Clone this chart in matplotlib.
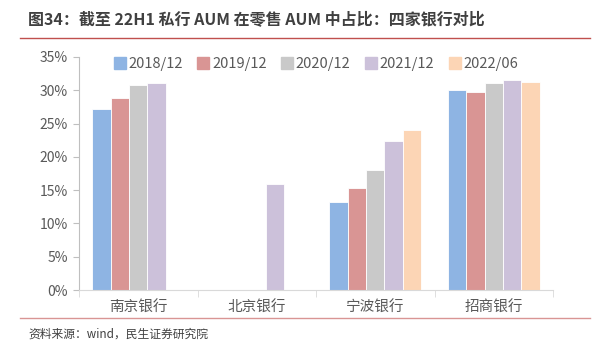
import numpy as np
import matplotlib.pyplot as plt
from matplotlib.lines import Line2D

plt.rcParams['font.family'] = ['Noto Sans CJK SC', 'DejaVu Sans']

banks = ['南京银行', '北京银行', '宁波银行', '招商银行']
periods = ['2018/12', '2019/12', '2020/12', '2021/12', '2022/06']
colors = ['#8EB4E3', '#D99594', '#C9C9C9', '#CCC1DA', '#FCD5B5']

# share of private banking AUM in retail AUM (%), nan = not disclosed
v2018 = [27.2, np.nan, 13.2, 30.0]
v2019 = [28.8, np.nan, 15.3, 29.8]
v2020 = [30.8, np.nan, 18.0, 31.1]
v2021 = [31.1, 15.9, 22.4, 31.5]
v2022 = [np.nan, np.nan, 24.0, 31.2]
series = [v2018, v2019, v2020, v2021, v2022]

fig = plt.figure(figsize=(6.03, 3.51), dpi=100)
ax = fig.add_axes([79 / 603, 1 - 290 / 351, (553 - 79) / 603, (290 - 57) / 351])

x = np.arange(len(banks))
w = 0.155
for i, (vals, c) in enumerate(zip(series, colors)):
    ax.bar(x + (i - 2) * w, vals, w, color=c, edgecolor='white', linewidth=0.6,
           label=periods[i])

ax.set_xlim(-0.5, len(banks) - 0.5)
ax.set_ylim(0, 35)
ax.set_yticks(np.arange(0, 36, 5))
ax.set_yticklabels([f'{t}%' for t in range(0, 36, 5)])
ax.set_xticks(x)
ax.set_xticklabels(banks)
ax.set_xticks(np.arange(-0.5, len(banks)), minor=True)
ax.tick_params(axis='x', which='major', length=0, pad=8, labelsize=10.5, labelcolor='#595959')
ax.tick_params(axis='x', which='minor', length=5, color='#D9D9D9', direction='out')
ax.tick_params(axis='y', length=4, color='#BFBFBF', labelsize=10, labelcolor='#595959', pad=4)
for s in ['top', 'right']:
    ax.spines[s].set_visible(False)
ax.spines['left'].set_color('#BFBFBF')
ax.spines['bottom'].set_color('#D9D9D9')

handles = [Line2D([], [], marker='s', linestyle='', markersize=8, markerfacecolor=c,
                  markeredgecolor=c) for c in colors]
ax.legend(handles, periods, loc='upper center', bbox_to_anchor=(0.5, 1.055), ncol=5,
          frameon=False, fontsize=10.5, labelcolor='#595959', handletextpad=0.2,
          handlelength=0.8, columnspacing=1.0)

fig.text(28 / 603, 1 - 19 / 351, '图34：截至 22H1 私行 AUM 在零售 AUM 中占比：四家银行对比',
         fontsize=11.5, fontweight='bold', color='#404040', va='center')
fig.add_artist(Line2D([20 / 603, 590 / 603], [1 - 38 / 351] * 2, color='#C0504D', linewidth=1))
fig.add_artist(Line2D([20 / 603, 590 / 603], [1 - 318 / 351] * 2, color='#D99594', linewidth=1))
fig.text(28 / 603, 1 - 334 / 351, '资料来源：wind，民生证券研究院', fontsize=8.5,
         color='#404040', va='center')

fig.savefig('out.png', dpi=100)
